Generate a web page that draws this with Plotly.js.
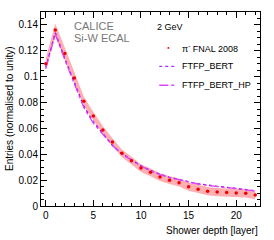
<!DOCTYPE html>
<html>
<head>
<meta charset="utf-8">
<script src="https://cdn.plot.ly/plotly-3.0.1.min.js"></script>
<style>html,body{margin:0;padding:0;background:#fff;}#chart{width:274px;height:240px;}</style>
</head>
<body>
<div id="chart"></div>
<script>
const layers = [0,1,2,3,4,5,6,7,8,9,10,11,12,13,14,15,16,17,18,19,20,21,22];
const dataValues = [0.110,0.136,0.118,0.099,0.081,0.0695,0.0587,0.0494,0.0407,0.035,0.0293,0.026,0.0224,0.020,0.018,0.0149,0.0130,0.0115,0.0108,0.0105,0.0100,0.0098,0.0085];
const dataErrors = [0.004,0.005,0.0045,0.004,0.0035,0.0032,0.003,0.003,0.003,0.003,0.003,0.003,0.003,0.003,0.003,0.0032,0.0032,0.0032,0.0032,0.0032,0.0032,0.0032,0.0032];
const ftfpBert = [0.107,0.134,0.114,0.095,0.077,0.065,0.0561,0.047,0.0405,0.0355,0.031,0.0275,0.0245,0.0222,0.0203,0.0188,0.0172,0.016,0.0152,0.0145,0.0137,0.013,0.0118];
const ftfpBertHp = [0.106,0.133,0.113,0.094,0.076,0.064,0.0555,0.0468,0.0402,0.0352,0.0308,0.0273,0.0243,0.022,0.0201,0.0186,0.017,0.0158,0.015,0.0143,0.0135,0.0128,0.0116];

const lower = dataValues.map((v,i)=>v-dataErrors[i]);
const upper = dataValues.map((v,i)=>v+dataErrors[i]);

const traces = [
  {x:layers, y:lower, mode:'lines', line:{width:0, color:'rgba(0,0,0,0)'}, showlegend:false, hoverinfo:'skip'},
  {x:layers, y:upper, mode:'lines', line:{width:0, color:'rgba(0,0,0,0)'}, fill:'tonexty', fillcolor:'rgba(255,120,125,0.6)', showlegend:false, hoverinfo:'skip'},
  {x:layers, y:ftfpBert, mode:'lines', name:'FTFP_BERT', line:{color:'#9900ee', width:1.3, dash:'dot'}},
  {x:layers, y:ftfpBertHp, mode:'lines', name:'FTFP_BERT_HP', line:{color:'#dd44ff', width:1.3, dash:'dashdot'}},
  {x:layers, y:dataValues, mode:'markers', name:'π<sup>-</sup> FNAL 2008', marker:{color:'#ee0000', size:3.5, symbol:'circle'}}
];

const font = {family:'Liberation Sans, Arial, sans-serif', size:10, color:'#000'};

const layout = {
  width:274, height:240,
  margin:{l:41, r:14, t:12, b:34},
  paper_bgcolor:'#fff', plot_bgcolor:'#fff',
  font:font,
  showlegend:false,
  xaxis:{
    range:[-0.5,22.5], tickmode:'array', tickvals:[0,5,10,15,20], ticktext:['0','5','10','15','20'],
    ticks:'inside', ticklen:6, tickcolor:'#000', showline:true, linecolor:'#000', linewidth:1, mirror:'allticks',
    showgrid:false, zeroline:false,
    minor:{ticks:'inside', ticklen:3, dtick:1, tick0:0, tickcolor:'#000', showgrid:false},
    tickfont:{family:'Liberation Sans, Arial, sans-serif', size:10}
  },
  yaxis:{
    range:[0,0.15], tickmode:'array', tickvals:[0,0.02,0.04,0.06,0.08,0.1,0.12,0.14], ticktext:['0','0.02','0.04','0.06','0.08','0.1','0.12','0.14'],
    ticks:'inside', ticklen:6, tickcolor:'#000', showline:true, linecolor:'#000', linewidth:1, mirror:'allticks',
    showgrid:false, zeroline:false,
    minor:{ticks:'inside', ticklen:3, dtick:0.005, tick0:0, tickcolor:'#000', showgrid:false},
    tickfont:{family:'Liberation Sans, Arial, sans-serif', size:10}
  },
  annotations:[
    {xref:'paper', yref:'paper', x:0, y:0.5, xanchor:'center', yanchor:'middle', xshift:-32, textangle:-90, showarrow:false,
     text:'Entries (normalised to unity)', font:{family:'Liberation Sans, Arial, sans-serif', size:10, color:'#000'}},
    {xref:'paper', yref:'paper', x:1, y:0, xanchor:'right', yanchor:'top', yshift:-17, showarrow:false,
     text:'Shower depth [layer]', font:{family:'Liberation Sans, Arial, sans-serif', size:10, color:'#000'}},
    {xref:'paper', yref:'paper', x:0.14, y:0.93, xanchor:'left', yanchor:'middle', showarrow:false, align:'left',
     text:'CALICE', font:{family:'Liberation Sans, Arial, sans-serif', size:11, color:'#777'}},
    {xref:'paper', yref:'paper', x:0.14, y:0.865, xanchor:'left', yanchor:'middle', showarrow:false, align:'left',
     text:'Si-W ECAL', font:{family:'Liberation Sans, Arial, sans-serif', size:11, color:'#777'}},
    {xref:'paper', yref:'paper', x:0.52, y:0.922, xanchor:'left', yanchor:'middle', showarrow:false,
     text:'2 GeV', font:{family:'Liberation Sans, Arial, sans-serif', size:9, color:'#000'}},
    {xref:'paper', yref:'paper', x:0.635, y:0.815, xanchor:'left', yanchor:'middle', showarrow:false,
     text:'π<sup>-</sup> FNAL 2008', font:{family:'Liberation Sans, Arial, sans-serif', size:9, color:'#000'}},
    {xref:'paper', yref:'paper', x:0.635, y:0.72, xanchor:'left', yanchor:'middle', showarrow:false,
     text:'FTFP_BERT', font:{family:'Liberation Sans, Arial, sans-serif', size:9, color:'#000'}},
    {xref:'paper', yref:'paper', x:0.635, y:0.622, xanchor:'left', yanchor:'middle', showarrow:false,
     text:'FTFP_BERT_HP', font:{family:'Liberation Sans, Arial, sans-serif', size:9, color:'#000'}}
  ],
  shapes:[
    {type:'circle', xref:'paper', yref:'paper', x0:0.577, x1:0.586, y0:0.81, y1:0.82, fillcolor:'#ee0000', line:{width:0}},
    {type:'line', xref:'paper', yref:'paper', x0:0.54, x1:0.615, y0:0.72, y1:0.72, line:{color:'#9900ee', width:1, dash:'dot'}},
    {type:'line', xref:'paper', yref:'paper', x0:0.54, x1:0.615, y0:0.622, y1:0.622, line:{color:'#dd44ff', width:1.5, dash:'dashdot'}}
  ]
};

Plotly.newPlot('chart', traces, layout, {staticPlot:true, displayModeBar:false});
</script>
</body>
</html>
